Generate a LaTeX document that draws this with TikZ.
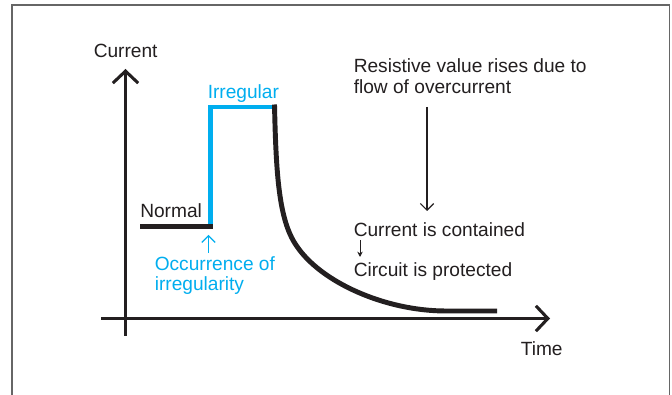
\documentclass[tikz,border=0pt]{standalone}
\usepackage{fontspec}
\setmainfont{Liberation Sans}
\usetikzlibrary{arrows.meta}
\definecolor{ink}{HTML}{231F20}
\definecolor{cyanline}{HTML}{00AEEF}
\tikzset{
  x=0.75pt,y=-0.75pt,
  lbl/.style={font=\fontsize{14.35pt}{17pt}\selectfont,text=ink,inner sep=0pt,anchor=base west},
  bluelbl/.style={lbl,text=cyanline},
  axisline/.style={draw=ink,line width=2.1pt,-{Straight Barb[length=9pt,width=19pt,line width=2.3pt]}},
  curveline/.style={draw=ink,line width=3.7pt},
  blueline/.style={draw=cyanline,line width=3.5pt,line join=miter},
  thinarrow/.style={draw=ink,line width=0.8pt,-{Straight Barb[length=5pt,width=10pt,line width=0.8pt]}},
  smallarrow/.style={draw=ink,line width=0.7pt,-{Stealth[length=4pt,width=4pt]}},
  bluearrow/.style={draw=cyanline,line width=0.9pt,-{Straight Barb[length=5pt,width=10pt,line width=0.9pt]}},
  frameline/.style={draw=black!60,line width=0.8pt}
}
\begin{document}
\begin{tikzpicture}
\useasboundingbox (0,0) rectangle (672,395);
\fill[white] (0,0) rectangle (672,395);
\draw[frameline] (12,395) -- (12,5) -- (669.5,5) -- (669.5,395);

\coordinate (yfoot) at (125.5,336);
\coordinate (ytip) at (125.5,69);
\coordinate (xfoot) at (101,318.5);
\coordinate (xtip) at (550,318.5);
\draw[axisline] (yfoot) -- (ytip);
\draw[axisline] (xfoot) -- (xtip);

\node[lbl] (current) at (93.5,58) {Current};
\node[lbl] (time) at (520.5,356) {Time};
\node[bluelbl] (irregular) at (207.5,99) {Irregular};
\node[lbl] (normal) at (140,218) {Normal};
\node[bluelbl] (occ) at (154.5,271) {Occurrence of};
\node[bluelbl] (irr) at (154.5,290.5) {irregularity};
\node[lbl] (res1) at (353.5,72.5) {Resistive value rises due to};
\node[lbl] (res2) at (353.5,94) {flow of overcurrent};
\node[lbl] (contained) at (353.5,236.5) {Current is contained};
\node[lbl] (protected) at (353.5,276.5) {Circuit is protected};

\coordinate (bluestart) at (210.5,226);
\coordinate (bluecorner) at (210.5,107);
\coordinate (blueend) at (274.5,107);
\coordinate (normstart) at (140,226.5);
\coordinate (normend) at (213,226.5);
\coordinate (decaystart) at (274.5,104.5);
\coordinate (decayend) at (497,311);
\draw[blueline] (bluestart) -- (bluecorner) -- (blueend);
\draw[curveline] (normstart) -- (normend);
\draw[curveline] (decaystart) .. controls (276,175) and (279,220) .. (296,245)
  .. controls (320,282) and (385,311) .. (446,311) -- (decayend);

\coordinate (bigtop) at (427,107);
\coordinate (bigbot) at (427,211);
\draw[thinarrow] (bigtop) -- (bigbot);
\coordinate (smalltop) at (360,240);
\coordinate (smallbot) at (360,257);
\draw[smallarrow] (smalltop) -- (smallbot);
\coordinate (bluefoot) at (208.5,253);
\coordinate (bluetip) at (208.5,235);
\draw[bluearrow] (bluefoot) -- (bluetip);
\end{tikzpicture}
\end{document}
